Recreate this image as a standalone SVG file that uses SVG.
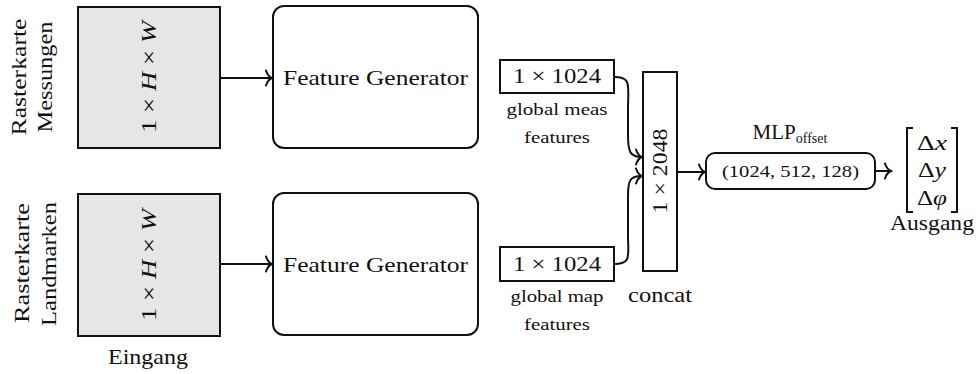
<svg xmlns="http://www.w3.org/2000/svg" width="976" height="374" viewBox="0 0 976 374" font-family="'Liberation Serif', Tinos, 'Times New Roman', 'DejaVu Serif', 'Noto Serif', serif">
<style>
text{font-family:'Liberation Serif', Tinos, 'Times New Roman', 'DejaVu Serif', 'Noto Serif', serif;fill:#111;}
.big{font-size:21px;}
.sm{font-size:17px;}
.it{font-style:italic;}
.box{fill:#fff;stroke:#111;stroke-width:2;}
.inp{fill:#e6e6e6;stroke:#111;stroke-width:2;}
.con{fill:none;stroke:#111;stroke-width:2;}
</style>
<defs>
<marker id="arr" viewBox="-10 -9 12 18" markerWidth="12" markerHeight="18" refX="0" refY="0" orient="auto" markerUnits="userSpaceOnUse">
<path d="M-6,-7.5 Q-4,-1.5 0,0 Q-4,1.5 -6,7.5" fill="none" stroke="#111" stroke-width="2" stroke-linecap="round"/>
</marker>
</defs>

<g id="label-meas">
<text class="big" text-anchor="middle" transform="translate(26,77) rotate(-90)" textLength="117" lengthAdjust="spacingAndGlyphs">Rasterkarte</text>
<text class="big" text-anchor="middle" transform="translate(52,77) rotate(-90)" textLength="111" lengthAdjust="spacingAndGlyphs">Messungen</text>
</g>
<g id="label-land">
<text class="big" text-anchor="middle" transform="translate(29,263) rotate(-90)" textLength="120" lengthAdjust="spacingAndGlyphs">Rasterkarte</text>
<text class="big" text-anchor="middle" transform="translate(56,264) rotate(-90)" textLength="124" lengthAdjust="spacingAndGlyphs">Landmarken</text>
</g>

<g id="input-meas">
<rect class="inp" x="78" y="7" width="142" height="141"/>
<text class="big" text-anchor="middle" transform="translate(156,77) rotate(-90)" textLength="112" lengthAdjust="spacingAndGlyphs">1 × <tspan class="it">H</tspan> × <tspan class="it">W</tspan></text>
</g>
<g id="input-land">
<rect class="inp" x="78" y="194" width="142" height="142"/>
<text class="big" text-anchor="middle" transform="translate(156,265) rotate(-90)" textLength="112" lengthAdjust="spacingAndGlyphs">1 × <tspan class="it">H</tspan> × <tspan class="it">W</tspan></text>
<text class="big" x="148" y="364" text-anchor="middle" textLength="80" lengthAdjust="spacingAndGlyphs">Eingang</text>
</g>

<g id="fg-meas">
<rect class="box" x="273" y="6" width="205" height="142" rx="11"/>
<text class="big" x="375.5" y="85" text-anchor="middle" textLength="185" lengthAdjust="spacingAndGlyphs">Feature Generator</text>
</g>
<g id="fg-land">
<rect class="box" x="273" y="193" width="205" height="142" rx="11"/>
<text class="big" x="375.5" y="272" text-anchor="middle" textLength="185" lengthAdjust="spacingAndGlyphs">Feature Generator</text>
</g>

<g id="feat-meas">
<rect class="box" x="500" y="60" width="114" height="33"/>
<text class="big" x="557" y="83" text-anchor="middle" textLength="88" lengthAdjust="spacingAndGlyphs">1 × 1024</text>
<text class="sm" x="557" y="115" text-anchor="middle" textLength="101" lengthAdjust="spacingAndGlyphs">global meas</text>
<text class="sm" x="557" y="143" text-anchor="middle" textLength="66" lengthAdjust="spacingAndGlyphs">features</text>
</g>
<g id="feat-land">
<rect class="box" x="500" y="247" width="114" height="34"/>
<text class="big" x="557" y="271" text-anchor="middle" textLength="88" lengthAdjust="spacingAndGlyphs">1 × 1024</text>
<text class="sm" x="557" y="302" text-anchor="middle" textLength="93" lengthAdjust="spacingAndGlyphs">global map</text>
<text class="sm" x="557" y="330" text-anchor="middle" textLength="66" lengthAdjust="spacingAndGlyphs">features</text>
</g>

<g id="concat">
<rect class="box" x="643" y="72" width="34" height="199"/>
<text class="big" text-anchor="middle" transform="translate(667,171) rotate(-90)" textLength="85" lengthAdjust="spacingAndGlyphs">1 × 2048</text>
<text class="big" x="660" y="302" text-anchor="middle" textLength="64" lengthAdjust="spacingAndGlyphs">concat</text>
</g>

<g id="mlp">
<rect class="box" x="706" y="153" width="169" height="36" rx="9"/>
<text class="sm" x="790.5" y="177" text-anchor="middle" textLength="137" lengthAdjust="spacingAndGlyphs">(1024, 512, 128)</text>
<text class="big" x="790" y="139" text-anchor="middle">MLP<tspan font-size="14" dy="4">offset</tspan></text>
</g>

<g id="output">
<path class="con" d="M913,128 H907 V212 H913 M951,128 H957 V212 H951" stroke-width="1.6"/>
<text class="big" x="932" y="150" text-anchor="middle" textLength="30" lengthAdjust="spacingAndGlyphs">Δ<tspan class="it">x</tspan></text>
<text class="big" x="932" y="177" text-anchor="middle" textLength="28" lengthAdjust="spacingAndGlyphs">Δ<tspan class="it">y</tspan></text>
<text class="big" x="932" y="205" text-anchor="middle" textLength="30" lengthAdjust="spacingAndGlyphs">Δ<tspan class="it">φ</tspan></text>
<text class="big" x="932" y="230" text-anchor="middle" textLength="84" lengthAdjust="spacingAndGlyphs">Ausgang</text>
</g>

<g id="connectors">
<line class="con" x1="220" y1="78" x2="272" y2="78" marker-end="url(#arr)"/>
<line class="con" x1="220" y1="264" x2="272" y2="264" marker-end="url(#arr)"/>
<path class="con" d="M614,77 C632,77 628,85 628,110 L628,135 C628,152 630,157 642,157" marker-end="url(#arr)"/>
<path class="con" d="M614,264 C632,264 628,256 628,235 L628,196 C628,180 630,176 642,176" marker-end="url(#arr)"/>
<line class="con" x1="677" y1="172" x2="705" y2="172" marker-end="url(#arr)"/>
<line class="con" x1="875" y1="171" x2="891" y2="171" marker-end="url(#arr)"/>
</g>
</svg>
